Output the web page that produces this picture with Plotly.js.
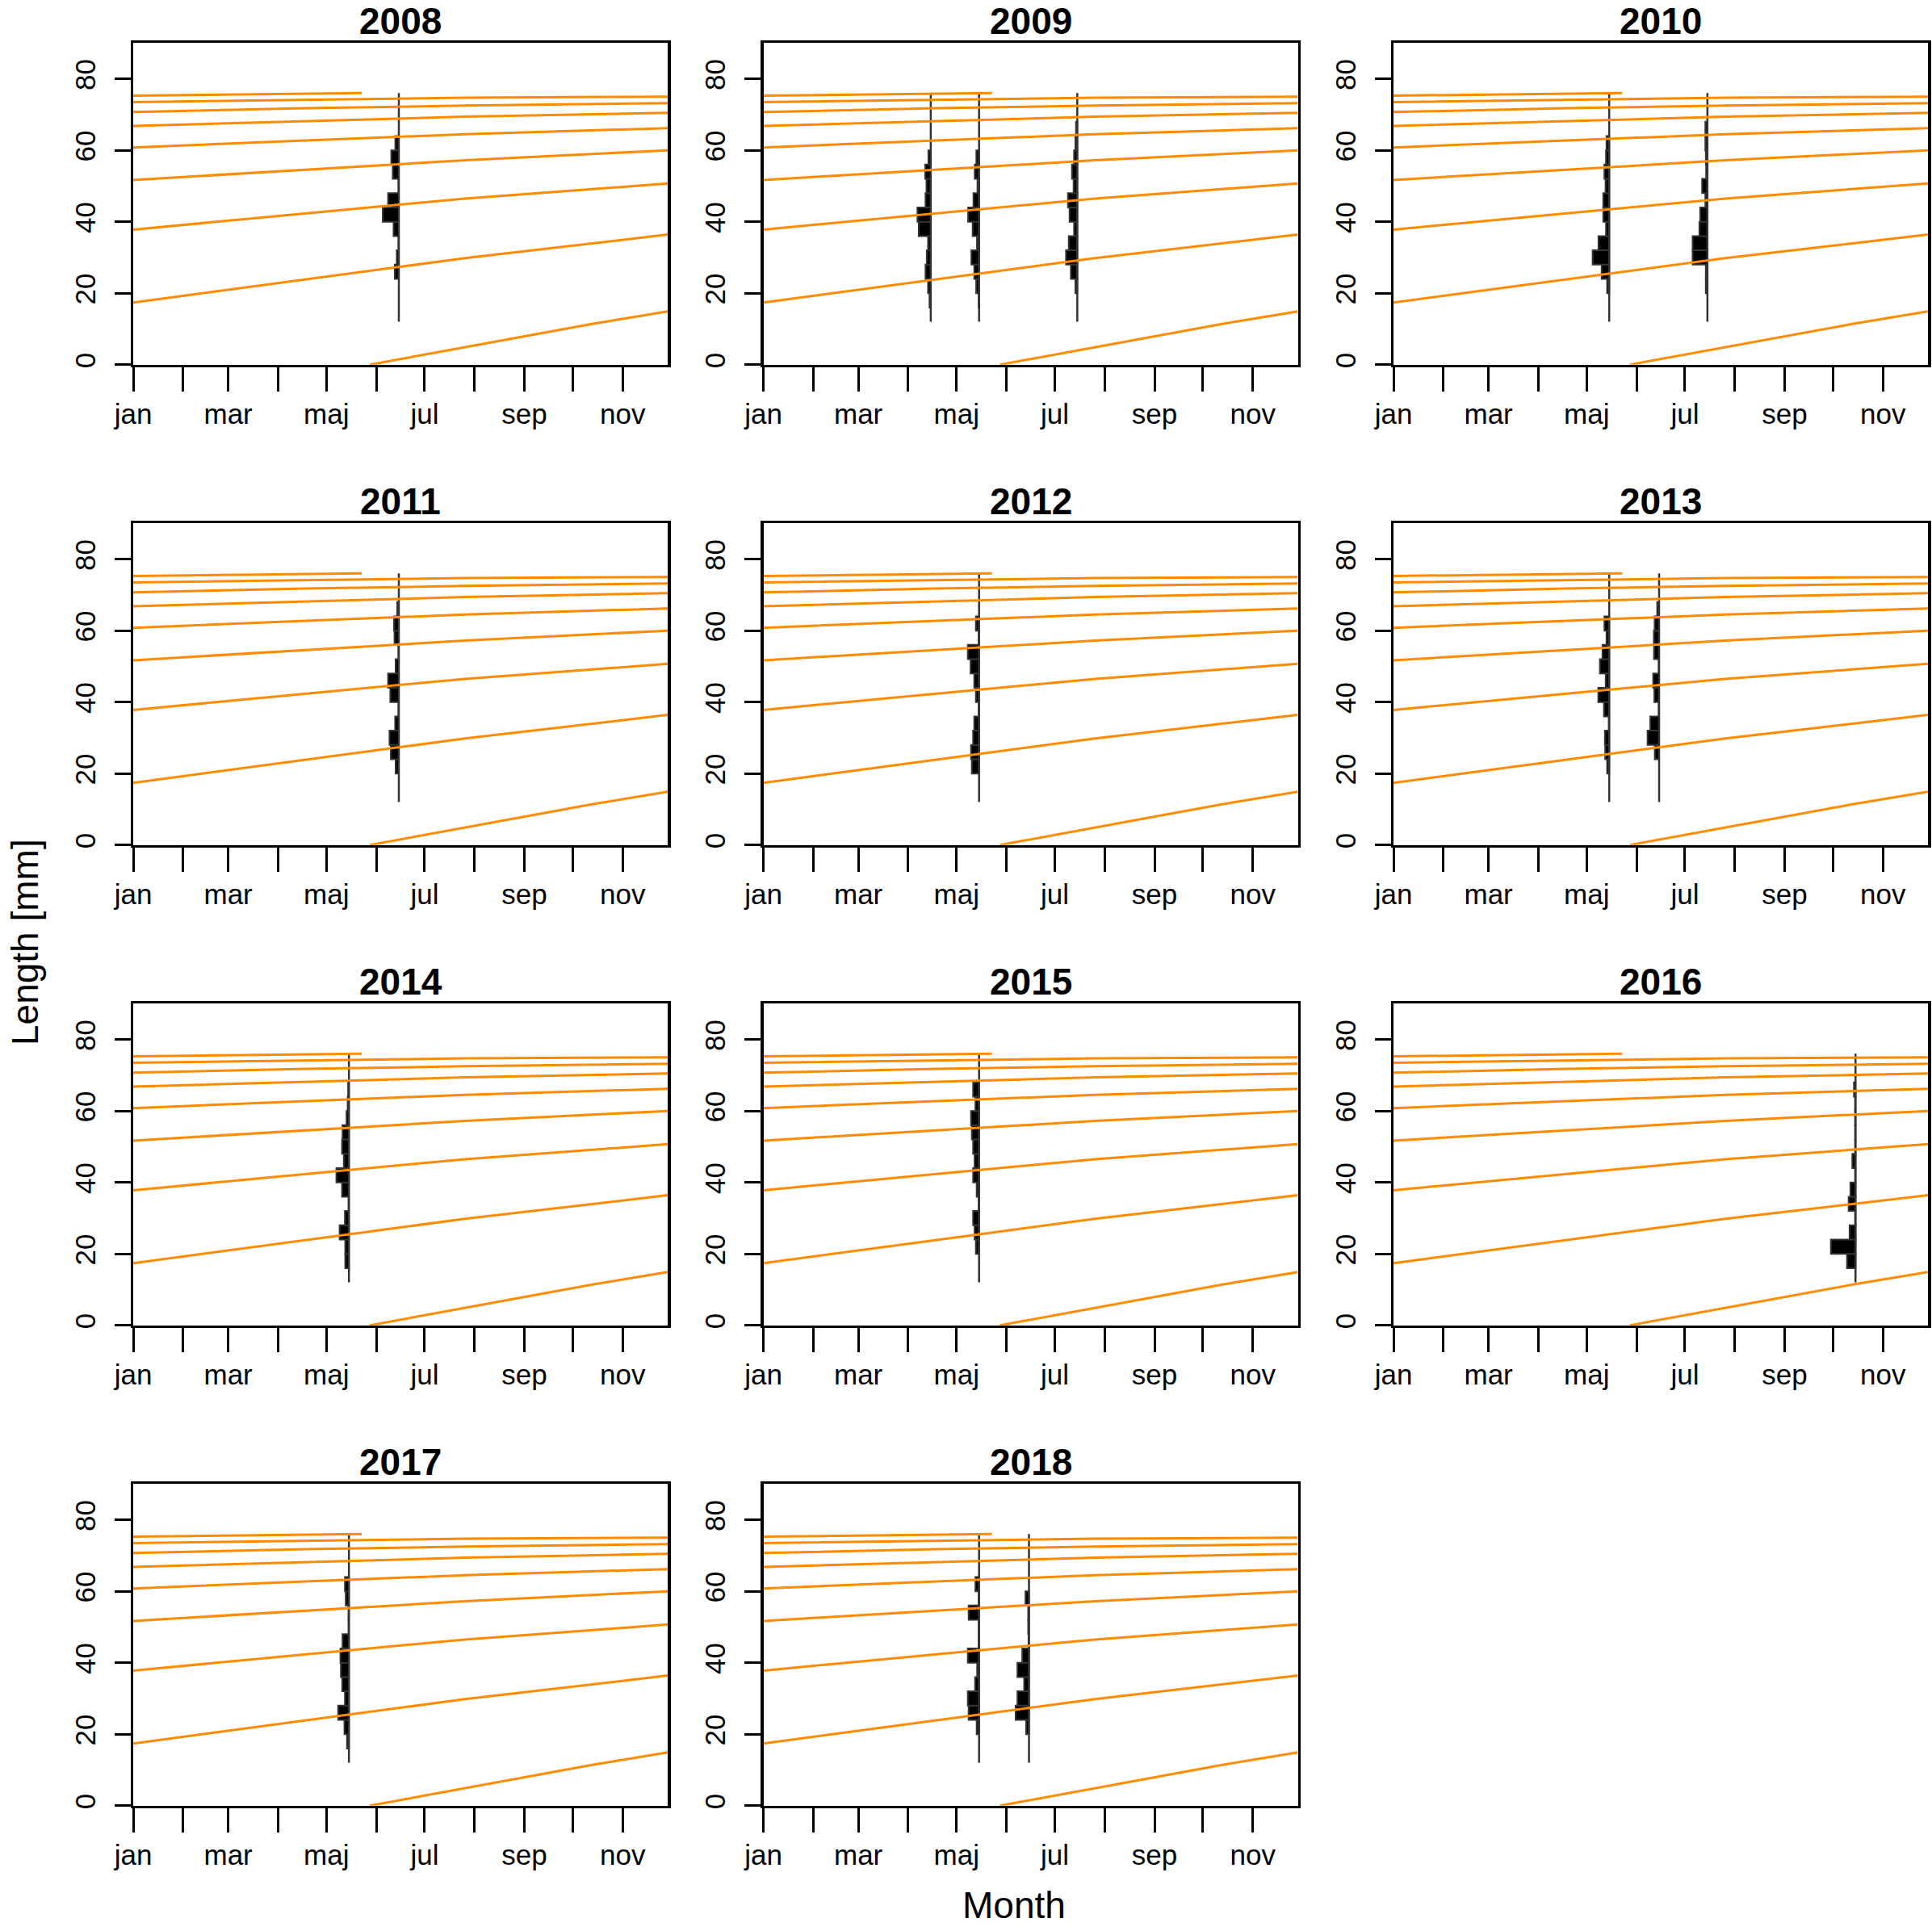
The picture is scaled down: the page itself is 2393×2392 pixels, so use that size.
<!DOCTYPE html>
<html>
<head>
<meta charset="utf-8">
<script src="https://cdn.plot.ly/plotly-3.0.1.min.js"></script>
<style>html,body{margin:0;padding:0;background:#fff;}#chart{width:2393px;height:2392px;}</style>
</head>
<body>
<div id="chart"></div>
<script>
// ---------- data ----------
const years = ['2008','2009','2010','2011','2012','2013','2014','2015','2016','2017','2018'];
const monthDays = [0,31,59,90,120,151,181,212,243,273,304];
const monthLabels = ['jan','','mar','','maj','','jul','','sep','','nov'];
const yTicks = [0,20,40,60,80];
const binLow = [12,16,20,24,28,32,36,40,44,48,52,56,60,64,68,72];

// growth curves of the cohorts (day of year, length mm)
const cohort0Day = [147,285,332];   const cohort0Len = [0,11.4,14.9];
const curveDay   = [0,107,206,332];
const cohort1Len = [17.4,23.9,29.8,36.4];
const cohort2Len = [37.8,42.4,46.5,50.7];
const cohort3Len = [51.7,54.6,57.2,60.0];
const cohort4Len = [60.8,62.7,64.5,66.2];
const cohort5Len = [66.8,68.2,69.4,70.5];
const cohort6Len = [70.7,71.8,72.5,73.2];
const cohort7Len = [73.5,74.2,74.7,75.0];
const cohort8Day = [0,107,142];     const cohort8Len = [75.3,75.8,76.0];

// length-frequency samples: bar widths (days) per 4 mm bin, bins 12-16 ... 72-76
const sampleYear = ['2008','2009','2009','2009','2010','2010','2011','2012','2013','2013','2014','2015','2016','2017','2018','2018'];
const sampleDay  = [165,104,134,195,134,195,165,134,134,165,134,134,287,134,134,165];
const freq2008a = [0,0,0,2.5,1.3,0.3,3.3,10.0,6.7,0.3,3.8,4.7,2.2,0,0,0];
const freq2009a = [0,0.8,1.7,3.3,2.5,1.7,7.5,8.3,3.3,2.7,3.5,1.5,0,0,0,0];
const freq2009b = [0,0.3,1.8,3.0,4.8,1.3,4.0,6.8,3.5,1.0,2.7,1.7,0,0,0,0];
const freq2009c = [0,0,1.2,4.0,7.0,5.3,2.0,4.8,5.8,2.3,3.3,2.0,1.2,0.8,0,0];
const freq2010a = [0,0,1.3,4.7,10.3,6.7,2.0,3.7,3.7,2.3,3.0,2.0,1.7,0,0,0];
const freq2010b = [0,0,1.0,1.0,9.2,9.2,5.0,4.5,1.3,3.3,0.8,1.0,1.3,1.3,0,0];
const freq2011a = [0,0,2.0,5.0,5.8,2.3,0.3,5.3,6.7,2.0,0.3,2.7,3.0,1.0,0,0];
const freq2012a = [0,0,4.5,5.0,3.7,3.0,0.3,2.0,3.0,5.3,7.0,0.3,2.0,0,0,0];
const freq2013a = [0,0,1.3,2.5,2.7,0.3,3.3,6.8,2.2,5.8,4.2,1.7,3.0,0,0,0];
const freq2013b = [0,0,0,2.7,7.2,5.5,0.3,3.0,3.7,0.3,3.2,3.3,2.8,1.2,0,0];
const freq2014a = [0,2.3,2.3,5.8,2.5,0.3,4.3,7.8,3.2,4.3,4.0,1.5,0.8,0.5,0,0];
const freq2015a = [0,0,2.0,2.8,3.7,0.3,1.5,3.7,2.8,3.7,4.5,5.0,2.3,3.7,0,0];
const freq2016a = [0,5.3,15.3,3.7,0.3,4.3,3.2,0.3,2.0,0.3,0.3,0.3,0.3,1.0,0,0];
const freq2017a = [0,1.2,2.8,6.7,2.5,4.2,5.0,5.3,4.0,0.3,0.3,2.0,2.5,0,0,0];
const freq2018a = [0,0,1.5,6.5,7.0,2.5,1.2,7.0,0.3,0.3,6.5,0.3,2.3,0,0,0];
const freq2018b = [0,0,1.8,8.3,7.2,3.0,7.2,4.2,0.3,0.5,0.5,2.2,0,0,0,0];
const sampleFreq = [freq2008a,freq2009a,freq2009b,freq2009c,freq2010a,freq2010b,freq2011a,freq2012a,
                    freq2013a,freq2013b,freq2014a,freq2015a,freq2016a,freq2017a,freq2018a,freq2018b];
const lineMin = 12, lineMax = 76;

// ---------- layout geometry ----------
const W = 2393, H = 2392;
const colLeft = [165, 945.5, 1726], plotW = 662;
const rowTop = [53.4, 648.4, 1243.4, 1838.4], plotH = 398.3;
const orange = '#FF8C00';
const fontFam = 'Liberation Sans, Arial, sans-serif';

const traces = [];
const layout = {
  width: W, height: H, margin: {l:0,r:0,t:0,b:0},
  paper_bgcolor: '#fff', plot_bgcolor: '#fff', showlegend: false,
  barmode: 'overlay', font: {family: fontFam, color: '#000'},
  annotations: []
};

const cohorts = [
  [cohort0Day, cohort0Len],[curveDay, cohort1Len],[curveDay, cohort2Len],[curveDay, cohort3Len],
  [curveDay, cohort4Len],[curveDay, cohort5Len],[curveDay, cohort6Len],[curveDay, cohort7Len],
  [cohort8Day, cohort8Len]
];

years.forEach((yr, i) => {
  const r = Math.floor(i/3), c = i % 3;
  const xa = i === 0 ? 'x' : 'x' + (i+1);
  const ya = i === 0 ? 'y' : 'y' + (i+1);
  const xKey = i === 0 ? 'xaxis' : 'xaxis' + (i+1);
  const yKey = i === 0 ? 'yaxis' : 'yaxis' + (i+1);
  const x0 = colLeft[c]/W, x1 = (colLeft[c]+plotW)/W;
  const y1 = 1 - rowTop[r]/H, y0 = 1 - (rowTop[r]+plotH)/H;
  layout[xKey] = {
    domain: [x0, x1], anchor: ya, range: [0, 332], fixedrange: true,
    tickmode: 'array', tickvals: monthDays, ticktext: monthLabels,
    ticks: 'outside', ticklen: 30, tickwidth: 3, tickcolor: '#000',
    ticklabelstandoff: -2,
    showline: true, linewidth: 3.5, linecolor: '#000', mirror: true,
    showgrid: false, zeroline: false,
    tickfont: {size: 35, family: fontFam, color: '#000'}
  };
  layout[yKey] = {
    domain: [y0, y1], anchor: xa, range: [0, 90], fixedrange: true,
    tickmode: 'array', tickvals: yTicks, ticktext: yTicks.map(String),
    ticks: 'outside', ticklen: 20, tickwidth: 3, tickcolor: '#000', tickangle: -90,
    ticklabelstandoff: 10,
    showline: true, linewidth: 3.5, linecolor: '#000', mirror: true,
    showgrid: false, zeroline: false,
    tickfont: {size: 35, family: fontFam, color: '#000'}
  };
  layout.annotations.push({
    text: '<b>' + yr + '</b>', xref: 'paper', yref: 'paper',
    x: (x0+x1)/2, y: 1 - (rowTop[r]-27)/H, xanchor: 'center', yanchor: 'middle',
    borderpad: 0, showarrow: false, font: {size: 46, family: fontFam, color: '#000'}
  });

  // histograms
  sampleYear.forEach((sy, k) => {
    if (sy !== yr) return;
    const d = sampleDay[k], f = sampleFreq[k];
    const ys = [], xs = [], bs = [];
    f.forEach((w, b) => { if (w > 0) { ys.push(binLow[b] + 2); xs.push(w); bs.push(d - w); } });
    traces.push({
      type: 'bar', orientation: 'h', xaxis: xa, yaxis: ya,
      y: ys, x: xs, base: bs, width: 4,
      marker: {color: '#000', line: {color: '#333', width: 2}},
      hoverinfo: 'skip'
    });
    traces.push({
      type: 'scatter', mode: 'lines', xaxis: xa, yaxis: ya,
      x: [d, d], y: [lineMin, lineMax],
      line: {color: '#333', width: 2.5}, hoverinfo: 'skip'
    });
  });

  // growth curves
  cohorts.forEach(([dx, ly]) => {
    traces.push({
      type: 'scatter', mode: 'lines', xaxis: xa, yaxis: ya,
      x: dx, y: ly, line: {color: orange, width: 3}, hoverinfo: 'skip'
    });
  });
});

layout.annotations.push({
  text: 'Month', xref: 'paper', yref: 'paper', x: 1256/W, y: 1 - 2360/H,
  xanchor: 'center', yanchor: 'middle', borderpad: 0, showarrow: false,
  font: {size: 46, family: fontFam, color: '#000'}
});
layout.annotations.push({
  text: 'Length [mm]', xref: 'paper', yref: 'paper', x: 31/W, y: 1 - 1167/H,
  xanchor: 'center', yanchor: 'middle', textangle: -90, borderpad: 0, showarrow: false,
  font: {size: 46, family: fontFam, color: '#000'}
});

Plotly.newPlot('chart', traces, layout, {staticPlot: true, displayModeBar: false});
</script>
</body>
</html>
